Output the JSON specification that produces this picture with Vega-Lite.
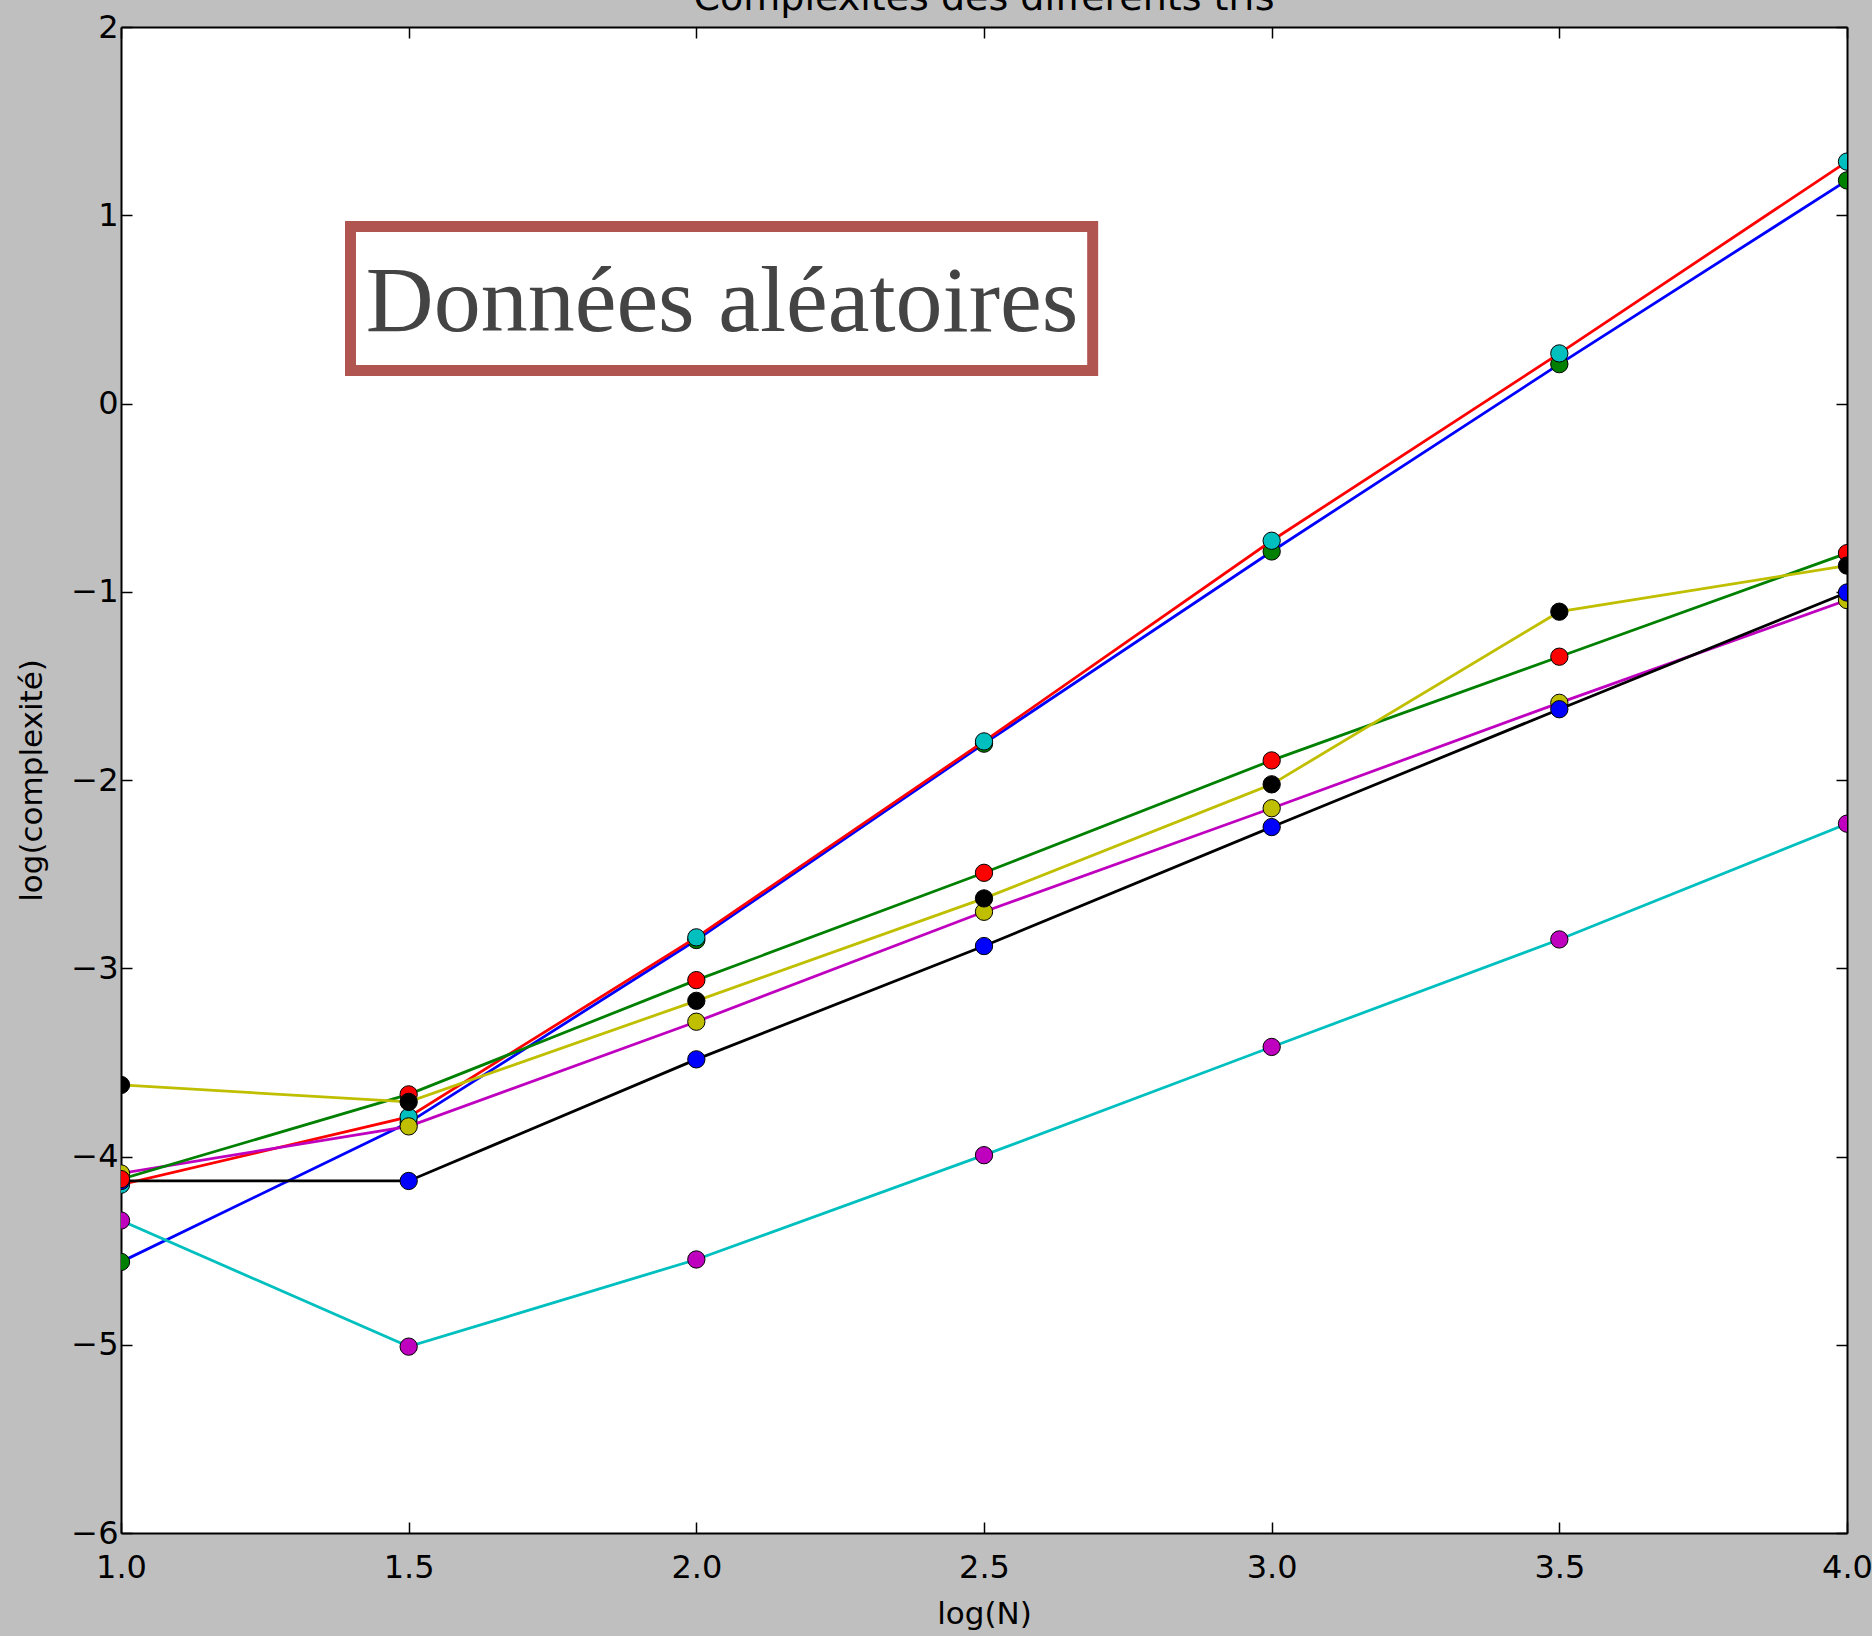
{
  "$schema": "https://vega.github.io/schema/vega-lite/v6.json",
  "autosize": {"type": "none"},
  "padding": {"left": 121, "top": 27, "right": 25, "bottom": 103},
  "width": 1726,
  "height": 1506,
  "background": "#bfbfbf",
  "title": {"text": "Complexités des différents tris", "font": "DejaVu Sans", "fontSize": 38, "fontWeight": "normal", "color": "#000000", "baseline": "alphabetic", "offset": 0, "dy": 37, "anchor": "middle"},
  "config": {
    "view": {"fill": "#ffffff", "stroke": null},
    "axis": {"grid": false, "domainColor": "#000000", "domainWidth": 2, "tickColor": "#000000", "tickWidth": 1.5, "tickSize": -11, "labelFont": "DejaVu Sans", "labelFontSize": 32, "labelColor": "#000000", "labelFlush": false, "labelOverlap": false, "titleFont": "DejaVu Sans", "titleFontSize": 31, "titleFontWeight": "normal", "titleColor": "#000000"}
  },
  "datasets": {
    "d": [
      {"s": 1, "x": 1.0, "y": -4.56}, {"s": 1, "x": 1.5, "y": -3.82}, {"s": 1, "x": 2.0, "y": -2.85}, {"s": 1, "x": 2.5, "y": -1.807}, {"s": 1, "x": 3.0, "y": -0.786}, {"s": 1, "x": 3.5, "y": 0.209}, {"s": 1, "x": 4.0, "y": 1.185},
      {"s": 2, "x": 1.0, "y": -4.15}, {"s": 2, "x": 1.5, "y": -3.79}, {"s": 2, "x": 2.0, "y": -2.836}, {"s": 2, "x": 2.5, "y": -1.795}, {"s": 2, "x": 3.0, "y": -0.729}, {"s": 2, "x": 3.5, "y": 0.266}, {"s": 2, "x": 4.0, "y": 1.285},
      {"s": 3, "x": 1.0, "y": -4.09}, {"s": 3, "x": 1.5, "y": -3.84}, {"s": 3, "x": 2.0, "y": -3.284}, {"s": 3, "x": 2.5, "y": -2.70}, {"s": 3, "x": 3.0, "y": -2.15}, {"s": 3, "x": 3.5, "y": -1.59}, {"s": 3, "x": 4.0, "y": -1.044},
      {"s": 4, "x": 1.0, "y": -4.13}, {"s": 4, "x": 1.5, "y": -4.13}, {"s": 4, "x": 2.0, "y": -3.484}, {"s": 4, "x": 2.5, "y": -2.882}, {"s": 4, "x": 3.0, "y": -2.25}, {"s": 4, "x": 3.5, "y": -1.624}, {"s": 4, "x": 4.0, "y": -1.004},
      {"s": 5, "x": 1.0, "y": -4.12}, {"s": 5, "x": 1.5, "y": -3.67}, {"s": 5, "x": 2.0, "y": -3.063}, {"s": 5, "x": 2.5, "y": -2.493}, {"s": 5, "x": 3.0, "y": -1.896}, {"s": 5, "x": 3.5, "y": -1.345}, {"s": 5, "x": 4.0, "y": -0.795},
      {"s": 6, "x": 1.0, "y": -4.34}, {"s": 6, "x": 1.5, "y": -5.01}, {"s": 6, "x": 2.0, "y": -4.547}, {"s": 6, "x": 2.5, "y": -3.993}, {"s": 6, "x": 3.0, "y": -3.418}, {"s": 6, "x": 3.5, "y": -2.847}, {"s": 6, "x": 4.0, "y": -2.232},
      {"s": 7, "x": 1.0, "y": -3.62}, {"s": 7, "x": 1.5, "y": -3.71}, {"s": 7, "x": 2.0, "y": -3.173}, {"s": 7, "x": 2.5, "y": -2.629}, {"s": 7, "x": 3.0, "y": -2.023}, {"s": 7, "x": 3.5, "y": -1.106}, {"s": 7, "x": 4.0, "y": -0.861}
    ],
    "box": [{"x1": 1.3989, "x2": 2.6889, "y1": 0.940, "y2": 0.175}],
    "note": [{"x": 2.0447, "y": 0.3866, "label": "Données aléatoires"}]
  },
  "data": {"name": "d"},
  "encoding": {
    "x": {"field": "x", "type": "quantitative", "scale": {"domain": [1, 4], "nice": false, "zero": false}, "axis": null},
    "y": {"field": "y", "type": "quantitative", "scale": {"domain": [-6, 2], "nice": false, "zero": false}, "axis": null}
  },
  "layer": [
    {"transform": [{"filter": "datum.s == 1"}], "mark": {"type": "line", "color": "#0000ff", "strokeWidth": 2.8, "clip": true},
     "encoding": {
       "x": {"field": "x", "type": "quantitative", "scale": {"domain": [1, 4], "nice": false, "zero": false}, "axis": {"orient": "bottom", "values": [1, 1.5, 2, 2.5, 3, 3.5, 4], "format": ".1f", "labelPadding": 30, "title": "log(N)", "titlePadding": 16}},
       "y": {"field": "y", "type": "quantitative", "scale": {"domain": [-6, 2], "nice": false, "zero": false}, "axis": {"orient": "left", "values": [-6, -5, -4, -3, -2, -1, 0, 1, 2], "format": "d", "labelPadding": 14, "title": "log(complexité)", "titlePadding": 22}}
     }},
    {"transform": [{"filter": "datum.s == 1"}], "mark": {"type": "point", "filled": true, "fill": "#008000", "stroke": "#000000", "strokeWidth": 1, "size": 300, "opacity": 1, "clip": true},
     "encoding": {
       "x": {"field": "x", "type": "quantitative", "scale": {"domain": [1, 4], "nice": false, "zero": false}, "axis": {"orient": "top", "values": [1, 1.5, 2, 2.5, 3, 3.5, 4], "labels": false, "title": null}},
       "y": {"field": "y", "type": "quantitative", "scale": {"domain": [-6, 2], "nice": false, "zero": false}, "axis": {"orient": "right", "values": [-6, -5, -4, -3, -2, -1, 0, 1, 2], "labels": false, "title": null}}
     }},
    {"transform": [{"filter": "datum.s == 2"}], "mark": {"type": "line", "color": "#ff0000", "strokeWidth": 2.8, "clip": true}},
    {"transform": [{"filter": "datum.s == 2"}], "mark": {"type": "point", "filled": true, "fill": "#00bfbf", "stroke": "#000000", "strokeWidth": 1, "size": 300, "opacity": 1, "clip": true}},
    {"transform": [{"filter": "datum.s == 3"}], "mark": {"type": "line", "color": "#bf00bf", "strokeWidth": 2.8, "clip": true}},
    {"transform": [{"filter": "datum.s == 3"}], "mark": {"type": "point", "filled": true, "fill": "#bfbf00", "stroke": "#000000", "strokeWidth": 1, "size": 300, "opacity": 1, "clip": true}},
    {"transform": [{"filter": "datum.s == 4"}], "mark": {"type": "line", "color": "#000000", "strokeWidth": 2.8, "clip": true}},
    {"transform": [{"filter": "datum.s == 4"}], "mark": {"type": "point", "filled": true, "fill": "#0000ff", "stroke": "#000000", "strokeWidth": 1, "size": 300, "opacity": 1, "clip": true}},
    {"transform": [{"filter": "datum.s == 5"}], "mark": {"type": "line", "color": "#008000", "strokeWidth": 2.8, "clip": true}},
    {"transform": [{"filter": "datum.s == 5"}], "mark": {"type": "point", "filled": true, "fill": "#ff0000", "stroke": "#000000", "strokeWidth": 1, "size": 300, "opacity": 1, "clip": true}},
    {"transform": [{"filter": "datum.s == 6"}], "mark": {"type": "line", "color": "#00bfbf", "strokeWidth": 2.8, "clip": true}},
    {"transform": [{"filter": "datum.s == 6"}], "mark": {"type": "point", "filled": true, "fill": "#bf00bf", "stroke": "#000000", "strokeWidth": 1, "size": 300, "opacity": 1, "clip": true}},
    {"transform": [{"filter": "datum.s == 7"}], "mark": {"type": "line", "color": "#bfbf00", "strokeWidth": 2.8, "clip": true}},
    {"transform": [{"filter": "datum.s == 7"}], "mark": {"type": "point", "filled": true, "fill": "#000000", "stroke": "#000000", "strokeWidth": 1, "size": 300, "opacity": 1, "clip": true}},
    {"data": {"name": "box"}, "mark": {"type": "rect", "fill": "#ffffff", "stroke": "#b0554f", "strokeWidth": 11},
     "encoding": {
       "x": {"field": "x1", "type": "quantitative", "axis": null},
       "x2": {"field": "x2"},
       "y": {"field": "y1", "type": "quantitative", "axis": null},
       "y2": {"field": "y2"}
     }},
    {"data": {"name": "note"}, "mark": {"type": "text", "font": "Liberation Serif", "fontSize": 94, "color": "#444444", "align": "center", "baseline": "alphabetic"},
     "encoding": {
       "x": {"field": "x", "type": "quantitative", "axis": null},
       "y": {"field": "y", "type": "quantitative", "axis": null},
       "text": {"field": "label"}
     }}
  ],
  "resolve": {"axis": {"x": "independent", "y": "independent"}}
}
